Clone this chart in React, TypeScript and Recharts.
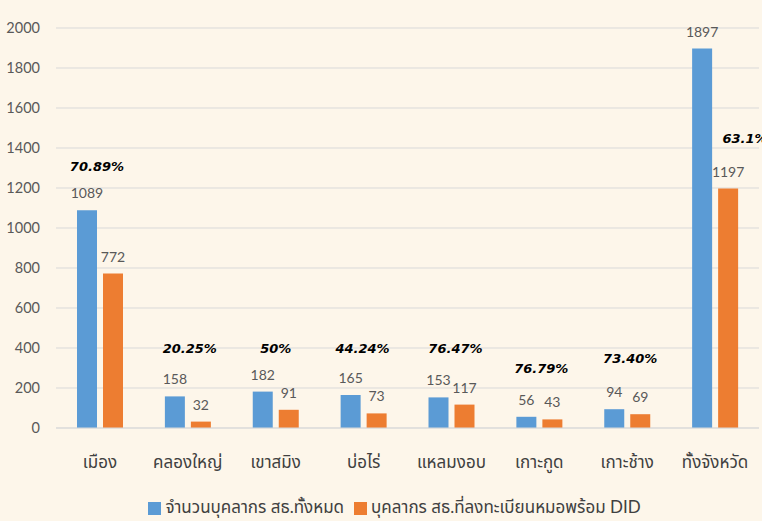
import React from "react";
import {
  BarChart,
  Bar,
  XAxis,
  YAxis,
  CartesianGrid,
  Legend,
  LabelList,
  ReferenceDot,
} from "recharts";

const districts = [
  "เมือง",
  "คลองใหญ่",
  "เขาสมิง",
  "บ่อไร่",
  "แหลมงอบ",
  "เกาะกูด",
  "เกาะช้าง",
  "ทั้งจังหวัด",
];
const totalStaff = [1089, 158, 182, 165, 153, 56, 94, 1897];
const registeredDid = [772, 32, 91, 73, 117, 43, 69, 1197];
const percentLabels = ["70.89%", "20.25%", "50%", "44.24%", "76.47%", "76.79%", "73.40%", "63.1%"];
// where each percentage sits, in axis units
const percentAt = [1310, 400, 400, 400, 400, 300, 350, 1450];
const percentShift = [-3, 2, 0, -1, 4, 2, 3, 30];
const yTicks = [0, 200, 400, 600, 800, 1000, 1200, 1400, 1600, 1800, 2000];

const FONT = "Lato, 'Noto Sans Thai', 'Noto Sans', sans-serif";
const BLUE = "#5B9BD5";
const ORANGE = "#ED7D31";

const rows = districts.map((name, i) => ({
  name,
  total: totalStaff[i],
  did: registeredDid[i],
}));

export default function App() {
  return (
    <div
      style={{
        position: "absolute",
        left: 0,
        top: 0,
        width: 762,
        height: 521,
        background: "#FDF6EA",
        fontFamily: FONT,
      }}
    >
      <BarChart
        width={762}
        height={521}
        data={rows}
        margin={{ top: 28, right: 3, bottom: 37, left: 0 }}
        barGap={6}
        barSize={20}
      >
        <CartesianGrid vertical={false} stroke="#D9D9D9" />
        <XAxis
          dataKey="name"
          tickLine={false}
          axisLine={{ stroke: "#D9D9D9" }}
          tick={{ fontSize: 17, fill: "#404040", fontFamily: FONT }}
          tickMargin={22}
          interval={0}
        />
        <YAxis
          width={56}
          domain={[0, 2000]}
          ticks={yTicks}
          tickLine={false}
          axisLine={false}
          tick={{ fontSize: 14.5, fill: "#595959", fontFamily: FONT }}
          tickMargin={10}
        />
        <Legend
          verticalAlign="bottom"
          iconType="square"
          iconSize={13}
          wrapperStyle={{ bottom: 0, paddingLeft: 20, fontSize: 17, fontFamily: FONT }}
          formatter={(v: string) => <span style={{ color: "#404040" }}>{v}</span>}
        />
        <Bar dataKey="total" name="จำนวนบุคลากร สธ.ทั้งหมด" fill={BLUE} isAnimationActive={false}>
          <LabelList dataKey="total" position="top" offset={12} fill="#595959" fontSize={14} fontFamily={FONT} />
        </Bar>
        <Bar dataKey="did" name="บุคลากร สธ.ที่ลงทะเบียนหมอพร้อม DID" fill={ORANGE} isAnimationActive={false}>
          <LabelList dataKey="did" position="top" offset={12} fill="#595959" fontSize={14} fontFamily={FONT} />
        </Bar>
        {districts.map((d, i) => (
          <ReferenceDot
            key={d}
            x={d}
            y={percentAt[i]}
            r={0}
            fill="none"
            stroke="none"
            label={{
              value: percentLabels[i],
              position: "center",
              dx: percentShift[i],
              fill: "#000",
              fontSize: 13,
              fontWeight: "bold",
              fontStyle: "italic",
              fontFamily: "'DejaVu Sans', sans-serif",
            }}
          />
        ))}
      </BarChart>
    </div>
  );
}
